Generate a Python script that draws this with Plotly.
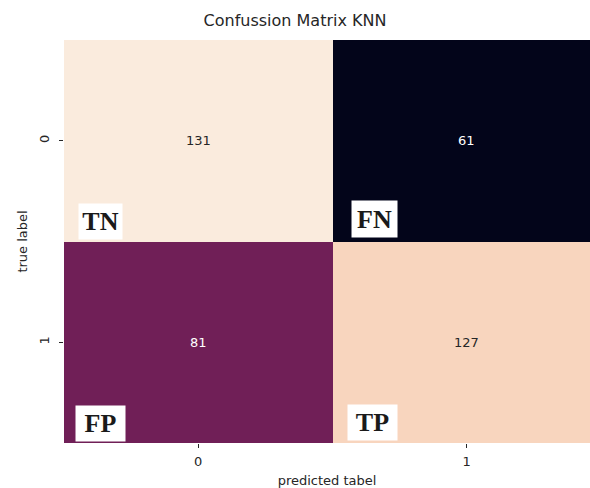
import plotly.graph_objects as go

# Data
true_labels = ["0", "1"]
pred_labels = ["0", "1"]
row0 = [131, 61]
row1 = [81, 127]
cell_tags = [["TN", "FN"], ["FP", "TP"]]

z = [row0, row1]

# seaborn "rocket" colormap approximation
rocket = [
    [0.0, "#03051A"], [1/7, "#35193E"], [2/7, "#701F57"], [3/7, "#AD1759"],
    [4/7, "#E13342"], [5/7, "#F37651"], [6/7, "#F6B48F"], [1.0, "#FAEBDD"],
]

zmin, zmax = min(min(r) for r in z), max(max(r) for r in z)

fig = go.Figure(go.Heatmap(
    z=z, x=[0, 1], y=[0, 1],
    colorscale=rocket, zmin=zmin, zmax=zmax,
    showscale=False, xgap=0, ygap=0, hoverinfo="skip",
))

annotations = []
for i, row in enumerate(z):
    for j, v in enumerate(row):
        frac = (v - zmin) / (zmax - zmin)
        annotations.append(dict(
            x=j, y=i, xref="x", yref="y", text=str(v), showarrow=False,
            font=dict(family="DejaVu Sans", size=13,
                      color="#262626" if frac > 0.6 else "#FFFFFF"),
        ))

# tag boxes: (xshift from cell left, yshift from cell bottom, width, height)
tag_style = {
    (0, 0): (13.5, 2, 43, 35),
    (0, 1): (18, 4, 45, 36),
    (1, 0): (10.5, 1.5, 49, 35),
    (1, 1): (14, 2.5, 49, 35),
}
for i in range(2):
    for j in range(2):
        dx, dy, w, h = tag_style[(i, j)]
        annotations.append(dict(
            x=j - 0.5, y=i + 0.5, xref="x", yref="y",
            xanchor="left", yanchor="bottom", xshift=dx, yshift=dy,
            text="<b>" + cell_tags[i][j] + "</b>", showarrow=False,
            bgcolor="white", width=w, height=h, borderpad=0, align="center",
            font=dict(family="Liberation Serif", size=26, color="#1a1a1a"),
        ))

W, H = 590, 488
fig.update_layout(
    width=W, height=H,
    margin=dict(l=63.5, r=0, t=40, b=45, autoexpand=False),
    paper_bgcolor="white", plot_bgcolor="white",
    title=dict(text="Confussion Matrix KNN", x=0.5, xanchor="center",
               y=1 - 20 / H, yanchor="middle",
               font=dict(family="DejaVu Sans", size=16, color="#262626")),
    annotations=annotations,
    font=dict(family="DejaVu Sans", size=13, color="#262626"),
)

fig.update_xaxes(
    tickvals=[0, 1], ticktext=pred_labels, range=[-0.5, 1.459],
    showgrid=False, zeroline=False, ticks="outside", ticklen=4,
    tickcolor="#262626", tickwidth=1, ticklabelstandoff=2, automargin=False,
    tickfont=dict(family="DejaVu Sans", size=13, color="#262626"),
    title=dict(text="predicted tabel", standoff=10,
               font=dict(family="DejaVu Sans", size=13, color="#262626")),
)
fig.update_yaxes(
    tickvals=[0, 1], ticktext=true_labels, range=[1.5, -0.5],
    showgrid=False, zeroline=False, ticks="outside", ticklen=4,
    tickcolor="#262626", tickwidth=1, tickangle=-90, ticklabelstandoff=5,
    automargin=False,
    tickfont=dict(family="DejaVu Sans", size=13, color="#262626"),
    title=dict(text="true label", standoff=6,
               font=dict(family="DejaVu Sans", size=13, color="#262626")),
)

fig.write_html(
    "out.html",
    config={"displayModeBar": False},
    post_script="document.body.style.margin='0';document.body.style.overflow='hidden';",
)
